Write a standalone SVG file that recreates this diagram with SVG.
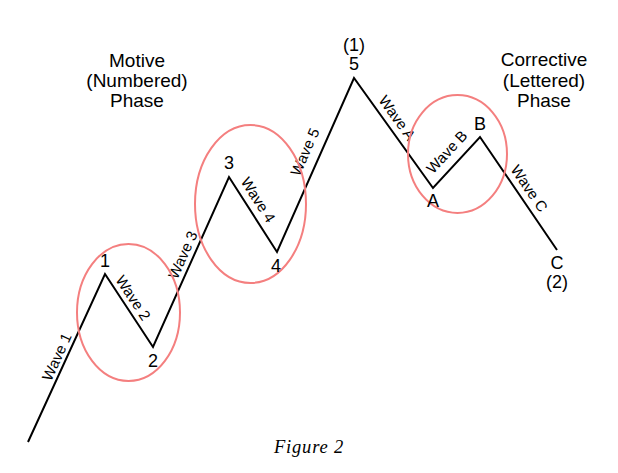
<svg xmlns="http://www.w3.org/2000/svg" width="618" height="473" viewBox="0 0 618 473">
<style>
.wave{fill:none;stroke:#000;stroke-width:2;stroke-linejoin:miter}
.ring{fill:none;stroke:#f47f7f;stroke-width:2}
.pt{font-family:"Liberation Sans",Arial,sans-serif;font-size:18px;text-anchor:middle;fill:#000}
.ph{font-family:"Liberation Sans",Arial,sans-serif;font-size:19px;text-anchor:middle;fill:#000}
.wl{font-family:"Liberation Sans",Arial,sans-serif;font-size:15px;text-anchor:middle;fill:#000}
.cap{font-family:"Liberation Serif","Times New Roman",serif;font-size:18.5px;font-style:italic;text-anchor:middle;fill:#000;letter-spacing:0.8px}
</style>
<rect width="618" height="473" fill="#fff"/>
<g id="connectors">
<polyline class="wave" points="28,442 105,274 153,347 229,177 277,252 354,78 433,188 480,137 557,250"/>
</g>
<g id="wave-labels">
<text class="wl" transform="translate(57,357) rotate(-65.4)" y="5">Wave 1</text>
<text class="wl" transform="translate(133,298) rotate(56.7)" y="5">Wave 2</text>
<text class="wl" transform="translate(183,255) rotate(-65.9)" y="5">Wave 3</text>
<text class="wl" transform="translate(258,200) rotate(57.4)" y="5">Wave 4</text>
<text class="wl" transform="translate(305,152) rotate(-66.1)" y="5">Wave 5</text>
<text class="wl" transform="translate(397,118) rotate(54.3)" y="5">Wave A</text>
<text class="wl" transform="translate(447,152) rotate(-47.3)" y="5">Wave B</text>
<text class="wl" transform="translate(529,188.5) rotate(55.7)" y="5">Wave C</text>
</g>
<g id="ring-1-2"><ellipse class="ring" cx="128.5" cy="312.5" rx="51.5" ry="68.5"/></g>
<g id="ring-3-4"><ellipse class="ring" cx="250.5" cy="204" rx="55.5" ry="79"/></g>
<g id="ring-A-B"><ellipse class="ring" cx="457.5" cy="154" rx="49.5" ry="59"/></g>
<g id="node-1"><text class="pt" x="105" y="267">1</text></g>
<g id="node-2"><text class="pt" x="153" y="367">2</text></g>
<g id="node-3"><text class="pt" x="229" y="169">3</text></g>
<g id="node-4"><text class="pt" x="276" y="272">4</text></g>
<g id="node-5"><text class="pt" x="354" y="51">(1)</text><text class="pt" x="354" y="70">5</text></g>
<g id="node-A"><text class="pt" x="433" y="207">A</text></g>
<g id="node-B"><text class="pt" x="480" y="130">B</text></g>
<g id="node-C"><text class="pt" x="557" y="269">C</text><text class="pt" x="557" y="288">(2)</text></g>
<g id="motive-phase">
<text class="ph" x="137" y="66.5">Motive</text>
<text class="ph" x="137" y="86.5">(Numbered)</text>
<text class="ph" x="137" y="106.5">Phase</text>
</g>
<g id="corrective-phase">
<text class="ph" x="544" y="66">Corrective</text>
<text class="ph" x="544" y="86.5">(Lettered)</text>
<text class="ph" x="544" y="107">Phase</text>
</g>
<g id="caption"><text class="cap" x="309" y="453">Figure 2</text></g>
</svg>
